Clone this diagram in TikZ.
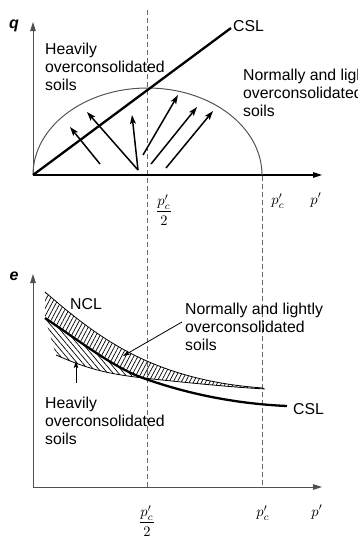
\documentclass[tikz,border=0pt]{standalone}
\usepackage{fontspec}
\setmainfont{Liberation Sans}
\usetikzlibrary{arrows.meta,patterns.meta}
\definecolor{axgray}{HTML}{505050}
\definecolor{dashgray}{HTML}{666666}
\definecolor{ellgray}{HTML}{555555}
\begin{document}
\begin{tikzpicture}[x=1pt,y=-1pt,
  txt/.style={font=\fontsize{15.8}{18}\selectfont, align=left, inner sep=0pt, anchor=north west},
  axlab/.style={font=\fontsize{16}{18}\selectfont\itshape\bfseries, inner sep=0pt},
  mth/.style={inner sep=0pt},
  axisline/.style={draw=axgray, line width=0.9pt, -{Triangle[length=9pt,width=5.5pt]}},
  guide/.style={draw=dashgray, line width=0.9pt, dash pattern=on 5pt off 3pt},
  patharrow/.style={line width=1.5pt, -{Stealth[length=9pt,width=6pt,inset=2pt]}},
  thickline/.style={line width=2.3pt},
  thinline/.style={line width=0.8pt},
  leader/.style={line width=0.8pt, -{Stealth[length=7pt,width=4.5pt,inset=1.5pt]}},
  hatchA/.style={pattern={Lines[angle=62,distance=3.6pt,line width=0.7pt]}},
  hatchB/.style={pattern={Lines[angle=-50,distance=4.2pt,line width=0.7pt]}}]
\useasboundingbox (0,0) rectangle (358,539);

% ---------------- top plot (q - p') ----------------
\coordinate (O1) at (33,175);
\coordinate (Q1) at (33,22);
\coordinate (P1) at (322,175);
\coordinate (C1) at (231,28);
\coordinate (D1t) at (147,10);
\coordinate (D1b) at (147,487);
\coordinate (D2t) at (262,176);
\coordinate (D2b) at (262,487);

\draw[guide] (D1t) -- (D1b);
\draw[guide] (D2t) -- (D2b);

\draw[axisline] (O1) -- (Q1);
\draw[axisline, draw=black, line width=1.3pt] (O1) -- (P1);

\draw[draw=ellgray, line width=1pt] (O1) arc[start angle=180, end angle=0, x radius=114.5pt, y radius=87pt];

% stress path arrows
\coordinate (a1s) at (100,164); \coordinate (a1e) at (70,127);
\coordinate (a2s) at (138,170); \coordinate (a2e) at (87,112);
\coordinate (a3e) at (132,115);
\coordinate (a4s) at (143,155); \coordinate (a4e) at (178,95);
\coordinate (a5s) at (151,164); \coordinate (a5e) at (197,107);
\coordinate (a6s) at (166,168); \coordinate (a6e) at (213,111);
\draw[patharrow] (a1s) -- (a1e);
\draw[patharrow] (a2s) -- (a2e);
\draw[patharrow] (a2s) -- (a3e);
\draw[patharrow] (a4s) -- (a4e);
\draw[patharrow] (a5s) -- (a5e);
\draw[patharrow] (a6s) -- (a6e);

\draw[thickline] (O1) -- (C1);

\node[axlab] (qlab) at (14,26) {q};
\node[txt, anchor=base west] (csl1) at (233,31) {CSL};
\node[txt] (hoc1) at (45,43) {Heavily\\overconsolidated\\soils};
\node[txt] (noc1) at (243,69) {Normally and lightly\\overconsolidated\\soils};
\node[mth] (fr1) at (164,210) {\scalebox{1.45}{$\displaystyle\frac{p'_c}{2}$}};
\node[mth] (pc1) at (278,201) {\scalebox{1.45}{$p'_c$}};
\node[mth] (pp1) at (316,200) {\scalebox{1.45}{$p'$}};

% ---------------- bottom plot (e - p') ----------------
\coordinate (O2) at (33,487);
\coordinate (E2) at (33,274);
\coordinate (P2) at (322,487);
\draw[axisline] (O2) -- (E2);
\draw[axisline, line width=1pt] (O2) -- (P2);

% key points of curves
\coordinate (csA) at (45,318);
\coordinate (X) at (143,378);
\coordinate (csB) at (287,406);
\coordinate (ncA) at (45,292);
\coordinate (ncB) at (263,388);
\coordinate (slA) at (56,355);
\coordinate (slB) at (265,389);

% hatched regions
\path[hatchA] (ncA) .. controls (95,335) and (150,380) .. (ncB)
  -- (slB) .. controls (230,387) and (190,383) .. (X)
  .. controls (115,368) and (85,345) .. (csA) -- cycle;
\path[hatchB] (csA) .. controls (85,345) and (115,368) .. (X)
  .. controls (110,374) and (90,370) .. (slA) -- cycle;

\draw[thinline] (ncA) .. controls (95,335) and (150,380) .. (ncB);
\draw[thinline] (slA) .. controls (90,370) and (110,374) .. (X)
  .. controls (190,383) and (230,387) .. (slB);
\draw[thickline] (csA) .. controls (85,345) and (115,368) .. (X)
  .. controls (190,395) and (240,404) .. (csB);

\node[axlab] (elab) at (14,276) {e};
\node[txt, anchor=base west] (ncl) at (70,309) {NCL};
\node[txt, anchor=base west] (csl2) at (293,414) {CSL};
\node[txt] (noc2) at (185,303) {Normally and lightly\\overconsolidated\\soils};
\node[txt] (hoc2) at (45,397) {Heavily\\overconsolidated\\soils};

\coordinate (l1s) at (182,322);
\coordinate (l1e) at (123,356);
\coordinate (l2s) at (76,383);
\coordinate (l2e) at (76,361);
\draw[leader] (l1s) -- (l1e);
\draw[leader] (l2s) -- (l2e);

\node[mth] (fr2) at (147,521) {\scalebox{1.45}{$\displaystyle\frac{p'_c}{2}$}};
\node[mth] (pc2) at (263,513) {\scalebox{1.45}{$p'_c$}};
\node[mth] (pp2) at (317,512) {\scalebox{1.45}{$p'$}};
\end{tikzpicture}
\end{document}
